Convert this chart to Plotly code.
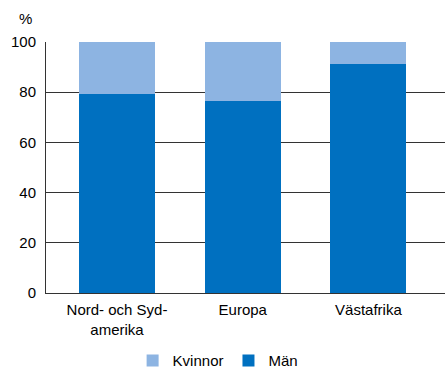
import plotly.graph_objects as go

regions = ["Nord- och Syd-<br>amerika", "Europa", "Västafrika"]
men = [79.4, 76.6, 91.3]
women = [100 - v for v in men]
y_ticks = [0, 20, 40, 60, 80, 100]

fig = go.Figure()
fig.add_trace(go.Bar(x=regions, y=men, name="Män", marker_color="#0070C0",
                     width=0.605, marker_line_width=0))
fig.add_trace(go.Bar(x=regions, y=women, name="Kvinnor", marker_color="#8DB4E2",
                     width=0.605, marker_line_width=0))

fig.update_layout(
    barmode="stack",
    width=445, height=368,
    margin=dict(l=46, r=0, t=42, b=75, autoexpand=False),
    paper_bgcolor="white", plot_bgcolor="white",
    font=dict(family="Liberation Sans, Arial, sans-serif", size=15, color="#000"),
    showlegend=True,
    legend=dict(orientation="h", traceorder="reversed",
                xref="container", x=0.298, xanchor="left",
                yref="container", y=0.02, yanchor="middle",
                font=dict(size=15), itemwidth=30, tracegroupgap=0),
    xaxis=dict(range=[-0.565, 2.609], showline=True, linecolor="#333",
               linewidth=1, ticks="", showgrid=False, automargin=False,
               ticklabelstandoff=3),
    yaxis=dict(range=[0, 100], tickvals=y_ticks, showline=True, linecolor="#333",
               linewidth=1, showgrid=True, gridcolor="#333", gridwidth=1,
               ticks="", zeroline=False, automargin=False,
               ticklabelstandoff=6),
    annotations=[dict(text="%", xref="paper", yref="paper", x=-0.03, y=1.05,
                      xanchor="right", yanchor="bottom", showarrow=False,
                      font=dict(size=15))],
)

fig.write_html("out.html")
